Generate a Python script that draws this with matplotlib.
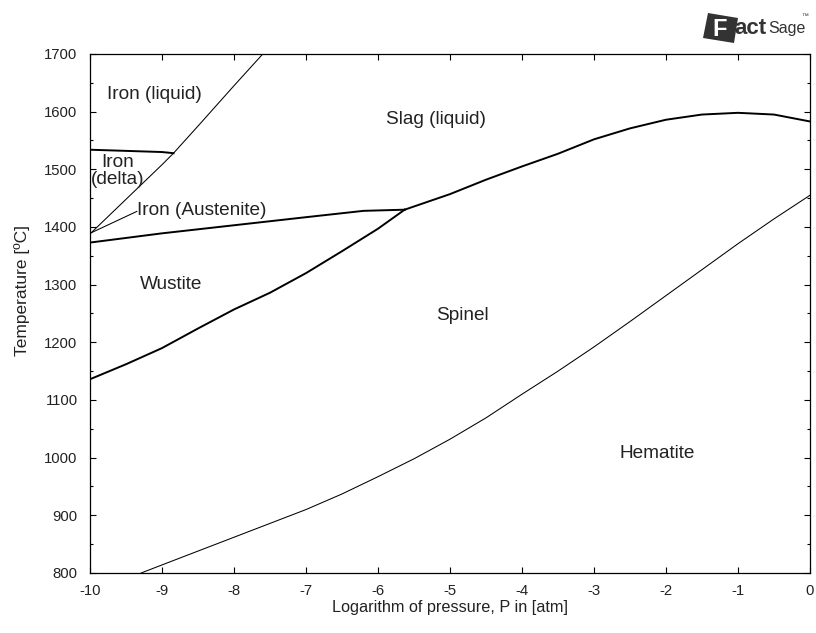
import matplotlib.pyplot as plt
from matplotlib.patches import Polygon
from matplotlib.ticker import MultipleLocator

plt.rcParams['font.family'] = ['Liberation Sans', 'DejaVu Sans']
plt.rcParams['axes.unicode_minus'] = False

# phase boundaries, log10(P/atm) vs temperature in C
liq_delta_x = [-10, -9.5, -9, -8.84, -8.5, -8, -7.6]
liq_delta_t = [1388, 1448, 1508, 1528, 1575, 1645, 1700]

delta_top_x = [-10, -9.5, -9, -8.84]
delta_top_t = [1534, 1532, 1530, 1528]

aust_x = [-10, -9.35]
aust_t = [1389, 1427]

wus_top_x = [-10, -9, -8, -7, -6.2, -5.63]
wus_top_t = [1373, 1389, 1403, 1417, 1428, 1430]

wus_spin_x = [-10, -9.5, -9, -8.5, -8, -7.5, -7, -6.5, -6, -5.63]
wus_spin_t = [1136, 1162, 1190, 1224, 1257, 1286, 1320, 1358, 1397, 1430]

slag_x = [-5.63, -5, -4.5, -4, -3.5, -3, -2.5, -2, -1.5, -1, -0.5, 0]
slag_t = [1430, 1457, 1482, 1505, 1527, 1552, 1571, 1586, 1595, 1598, 1595, 1583]

hem_x = [-9.29, -9, -8.5, -8, -7.5, -7, -6.5, -6, -5.5, -5, -4.5, -4,
         -3.5, -3, -2.5, -2, -1.5, -1, -0.5, 0]
hem_t = [800, 814, 838, 862, 886, 910, 937, 967, 998, 1032, 1069, 1110,
         1150, 1192, 1236, 1281, 1326, 1371, 1414, 1455]

fig = plt.figure(figsize=(8.16, 6.33), dpi=100)
ax = fig.add_axes([0.1103, 0.0948, 0.8823, 0.8199])

thin = dict(color='black', lw=0.75)
thick = dict(color='black', lw=1.4)
ax.plot(liq_delta_x, liq_delta_t, **thin)
ax.plot(delta_top_x, delta_top_t, **thick)
ax.plot(aust_x, aust_t, **thin)
ax.plot(wus_top_x, wus_top_t, **thick)
ax.plot(wus_spin_x, wus_spin_t, **thick)
ax.plot(slag_x, slag_t, **thick)
ax.plot(hem_x, hem_t, **thin)

lab = dict(fontsize=13.7, color='#222222')
ax.text(-9.1, 1629, 'Iron (liquid)', ha='center', va='center', **lab)
ax.text(-9.61, 1497, 'Iron\n(delta)', ha='center', va='center', linespacing=0.95, **lab)
ax.text(-9.35, 1429, 'Iron (Austenite)', ha='left', va='center', **lab)
ax.text(-5.19, 1586, 'Slag (liquid)', ha='center', va='center', **lab)
ax.text(-8.875, 1301, 'Wustite', ha='center', va='center', **lab)
ax.text(-4.83, 1246, 'Spinel', ha='center', va='center', **lab)
ax.text(-2.125, 1008, 'Hematite', ha='center', va='center', **lab)

ax.set_xlim(-10, 0)
ax.set_ylim(800, 1700)
ax.xaxis.set_major_locator(MultipleLocator(1))
ax.yaxis.set_major_locator(MultipleLocator(100))
ax.yaxis.set_minor_locator(MultipleLocator(50))
ax.tick_params(which='both', direction='in', top=True, right=True,
               labelsize=10.7, colors='black', labelcolor='#222222')
ax.tick_params(axis='y', which='major', length=4.5, width=0.8, pad=9)
ax.tick_params(axis='x', which='major', length=4.5, width=0.8, pad=8)
ax.tick_params(which='minor', length=2, width=0.8)
for s in ax.spines.values():
    s.set_linewidth(0.9)

ax.set_xlabel('Logarithm of pressure, P in [atm]', fontsize=11.7, color='#222222')
ax.set_ylabel('Temperature [ºC]', fontsize=12.5, color='#222222')
ax.xaxis.set_label_coords(0.5, -0.052)
ax.yaxis.set_label_coords(-0.084, 0.545)

# FactSage logo, top right
px = lambda x, y: (x / 816, 1 - y / 633)
logo = Polygon([px(708, 13), px(738, 18), px(734, 43), px(703, 38)],
               closed=True, transform=fig.transFigure, facecolor='#333333',
               edgecolor='none')
fig.patches.append(logo)
fig.text(*px(712, 29), 'F', fontsize=17, fontweight='bold', color='white',
         ha='left', va='center')
fig.text(*px(734, 28), 'act', fontsize=16, fontweight='bold', color='#333333',
         ha='left', va='center')
fig.text(*px(768, 28), 'Sage', fontsize=11.5, color='#333333', ha='left',
         va='center', fontstretch='condensed')
fig.text(*px(801, 17), '™', fontsize=5, color='#333333', ha='left', va='center')

fig.savefig('out.png', dpi=100)
